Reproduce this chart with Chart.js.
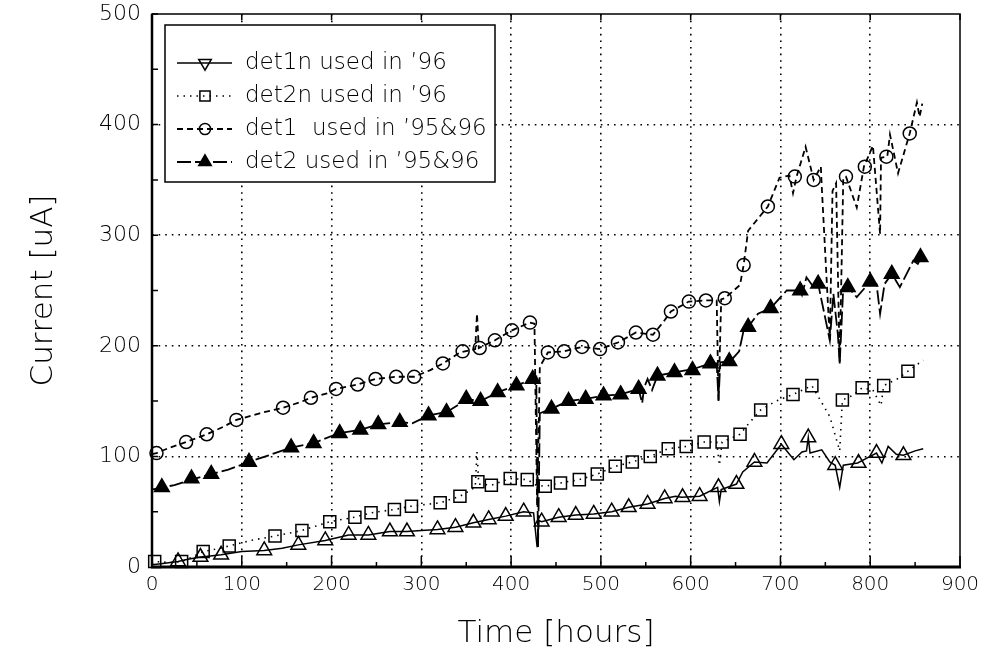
<!DOCTYPE html>
<html>
<head>
<meta charset="utf-8">
<script src="https://cdn.jsdelivr.net/npm/chart.js@4.4.1/dist/chart.umd.min.js"></script>
<style>
  html, body { margin: 0; padding: 0; background: #fff; }
  canvas { display: block; }
</style>
</head>
<body>
<canvas id="c" width="987" height="650"></canvas>
<script>
'use strict';

/* ── data ── */
// det1n used in '96 (open triangles, solid)
const det1nHours = [0,10,29,40,54,65,77,100,125,145,163,193,219,241,265,284,300,318,338,358,375,394,414,425,429,431,434,453,472,492,512,531,552,571,583,590,610,630,632,634,651,658,671,685,701,708,715,724,729,731,733,746,755,761,766,770,786,800,807,813,820,829,837,850,859];
const det1nCurrent = [2,3,5,7,9,10,11,14,15,17,20,24,29,29,32,32,33,34,36,40,43,46,50,49,18,42,41,45,47,48,50,54,57,62,64,63,64,72,59,70,75,86,95,94,111,104,97,104,105,117,103,106,95,92,72,92,94,100,103,94,109,102,101,105,107];
const det1nMarkHours = [29,54,77,125,163,193,219,241,265,284,318,338,358,375,394,414,434,453,472,492,512,531,552,571,591,610,631,651,671,701,731,761,787,807,837];
const det1nMarkCurrent = [5,9,11,15,20,24,29,29,32,32,34,36,40,43,46,50,41,45,47,48,50,54,57,62,63,64,72,75,95,111,117,92,94,103,101];

// det2n used in '96 (open squares, dotted)
const det2nHours = [0,3,20,33,45,57,70,86,110,137,167,198,226,244,270,289,321,343,360,362,364,378,399,418,428,438,455,476,496,516,535,555,575,595,615,629,632,635,655,665,678,695,714,735,745,755,766,769,780,791,803,812,815,830,842,859];
const det2nCurrent = [3,5,4,5,9,14,16,19,24,28,33,41,45,49,52,55,58,64,72,104,75,74,80,79,74,73,76,79,84,91,95,100,107,109,113,113,92,113,120,130,142,150,156,164,150,136,105,151,155,162,160,146,164,170,177,187];
const det2nMarkHours = [3,33,57,86,137,167,198,226,244,270,289,321,343,363,378,399,418,438,455,476,496,516,535,555,575,595,615,635,655,678,714,735,769,791,815,842];
const det2nMarkCurrent = [5,5,14,19,28,33,41,45,49,52,55,58,64,77,74,80,79,73,76,79,84,91,95,100,107,109,113,113,120,142,156,164,151,162,164,177];

// det1 used in '95&96 (open circles, dashed)
const det1Hours = [0,5,20,38,61,80,94,120,146,165,177,195,205,229,249,272,292,310,324,343,360,362,364,382,401,421,426,429,432,441,459,479,499,519,539,558,570,578,598,617,629,631,634,638,655,659,664,686,699,710,714,718,728,737,745,746,755,758,762,766,770,773,785,793,803,811,812,819,822,831,844,852,855,858];
const det1Current = [102,103,108,113,120,127,133,139,144,149,153,157,161,165,170,172,172,178,184,194,197,229,198,205,214,221,220,55,181,194,195,199,197,203,212,210,222,231,240,241,241,150,242,243,255,273,304,326,352,354,338,353,380,350,362,344,205,340,347,184,352,353,325,362,381,301,370,371,391,356,392,420,407,419];
const det1MarkHours = [5,38,61,94,146,177,205,229,249,272,292,324,346,365,382,401,421,441,459,479,499,519,539,558,578,598,617,638,659,686,716,737,773,794,818,844];
const det1MarkCurrent = [103,113,120,133,144,153,161,165,170,172,172,184,195,198,205,214,221,194,195,199,197,203,212,210,231,240,241,243,273,326,353,350,353,362,371,392];

// det2 used in '95&96 (filled triangles, long dash)
const det2Hours = [0,11,25,44,66,85,108,130,155,180,208,232,252,276,290,308,328,340,350,366,385,406,424,428,430,432,445,463,483,503,522,542,546,548,552,554,557,563,582,603,622,629,631,633,644,654,659,664,675,689,707,722,724,729,737,742,755,759,764,766,770,775,785,800,807,811,816,824,833,848,853,857];
const det2Current = [70,72,74,79,84,88,95,101,108,112,121,124,129,131,130,137,140,146,152,150,158,164,170,172,18,139,143,150,152,155,156,161,148,162,170,166,160,173,176,179,184,184,151,185,186,195,214,217,229,234,250,250,246,262,253,256,205,247,210,184,253,253,244,258,256,229,256,265,253,277,274,280];
const det2MarkHours = [11,44,66,108,155,180,209,232,252,276,308,328,350,366,385,406,424,445,464,483,503,522,542,563,582,602,622,643,664,689,722,742,775,800,824,856];
const det2MarkCurrent = [72,80,84,95,108,112,121,124,129,131,137,140,152,150,158,164,170,143,150,152,155,156,161,173,176,178,184,186,217,234,250,256,253,258,265,280];

const seriesNames = ["det1n used in \u201996", "det2n used in \u201996", "det1  used in \u201995&96", "det2 used in \u201995&96"];
const xTicks = [0,100,200,300,400,500,600,700,800,900];
const yTicks = [0,100,200,300,400,500];

/* ── styles ── */
const FONT = "'DejaVu Sans', sans-serif";
const WEIGHT = 200;
const STYLE = [
  { dash: [],       width: 1.5, point: 'triangle', radius: 8.5, fill: 'rgba(0,0,0,0)', legendRot: 180 },
  { dash: [1.5,5],  width: 1.6, point: 'rect',     radius: 8.5, fill: 'rgba(0,0,0,0)', legendRot: 0 },
  { dash: [6,4],    width: 1.8, point: 'circle',   radius: 6.5, fill: 'rgba(0,0,0,0)', legendRot: 0 },
  { dash: [14,4],   width: 1.8, point: 'triangle', radius: 8.5, fill: '#000',          legendRot: 0 }
];

const pts = (xs, ys) => xs.map((x, i) => ({ x, y: ys[i] }));
const lines = [
  pts(det1nHours, det1nCurrent), pts(det2nHours, det2nCurrent),
  pts(det1Hours, det1Current),   pts(det2Hours, det2Current)
];
const marks = [
  pts(det1nMarkHours, det1nMarkCurrent), pts(det2nMarkHours, det2nMarkCurrent),
  pts(det1MarkHours, det1MarkCurrent),   pts(det2MarkHours, det2MarkCurrent)
];

const datasets = [];
lines.forEach((d, i) => datasets.push({
  label: seriesNames[i], data: d, showLine: true, pointRadius: 0,
  borderColor: '#000', borderWidth: STYLE[i].width, borderDash: STYLE[i].dash,
  tension: 0, clip: false
}));
marks.forEach((d, i) => datasets.push({
  label: seriesNames[i] + ' markers', data: d, showLine: false,
  pointStyle: STYLE[i].point, pointRadius: STYLE[i].radius, pointHoverRadius: STYLE[i].radius,
  pointBorderColor: '#000', pointBackgroundColor: STYLE[i].fill, pointBorderWidth: 1.5,
  clip: false
}));

/* ── frame, inward ticks and boxed legend ── */
const frame = {
  id: 'frame',
  afterDatasetsDraw(chart) {
    const { ctx, chartArea: a, scales: { x, y } } = chart;
    ctx.save();
    ctx.setLineDash([]);
    ctx.strokeStyle = '#000';
    ctx.lineWidth = 1.5;
    ctx.strokeRect(a.left, a.top, a.right - a.left, a.bottom - a.top);
    ctx.lineWidth = 3;
    ctx.beginPath(); ctx.moveTo(a.left - 1, a.bottom); ctx.lineTo(a.right + 1, a.bottom); ctx.stroke();
    ctx.lineWidth = 2.5;
    ctx.beginPath(); ctx.moveTo(a.left, a.top); ctx.lineTo(a.left, a.bottom); ctx.stroke();
    ctx.lineWidth = 1.5;
    ctx.beginPath();
    x.ticks.forEach(t => {
      const px = x.getPixelForValue(t.value);
      const major = t.value % 100 === 0;
      ctx.moveTo(px, a.bottom); ctx.lineTo(px, a.bottom - (major ? 11 : 5));
      if (major) { ctx.moveTo(px, a.top); ctx.lineTo(px, a.top + 6); }
    });
    y.ticks.forEach(t => {
      const py = y.getPixelForValue(t.value);
      ctx.moveTo(a.left, py); ctx.lineTo(a.left + 6, py);
    });
    ctx.stroke();
    ctx.restore();
  },
  afterDraw(chart) {
    const { ctx, chartArea: a } = chart;
    const bx = a.left + 13, by = a.top + 11, bw = 330, bh = 157;
    ctx.save();
    ctx.fillStyle = '#fff';
    ctx.fillRect(bx, by, bw, bh);
    ctx.strokeStyle = '#000';
    ctx.lineWidth = 1.5;
    ctx.strokeRect(bx, by, bw, bh);
    seriesNames.forEach((name, i) => {
      const s = STYLE[i];
      const cy = by + 38 + i * 33;
      ctx.setLineDash(s.dash);
      ctx.lineWidth = s.width;
      ctx.beginPath(); ctx.moveTo(bx + 12, cy); ctx.lineTo(bx + 67, cy); ctx.stroke();
      ctx.setLineDash([]);
      ctx.fillStyle = s.fill;
      ctx.lineWidth = 1.5;
      Chart.helpers.drawPoint(ctx, { pointStyle: s.point, radius: s.radius * 0.85, rotation: s.legendRot, borderWidth: 1.5 }, bx + 40, cy);
      ctx.fillStyle = '#000';
      ctx.font = WEIGHT + ' 23px ' + FONT;
      ctx.textBaseline = 'middle';
      ctx.fillText(name, bx + 80, cy);
    });
    ctx.restore();
  }
};

const gridColor = (edges) => c => (c.tick.value % 100 === 0 && !edges.includes(c.tick.value)) ? '#000' : 'rgba(0,0,0,0)';

new Chart(document.getElementById('c'), {
  type: 'scatter',
  data: { datasets },
  options: {
    responsive: false, animation: false, devicePixelRatio: 1,
    layout: { padding: { left: 0, right: 27, top: 14, bottom: 0 } },
    plugins: { legend: { display: false }, tooltip: { enabled: false } },
    scales: {
      x: {
        type: 'linear', min: 0, max: 900,
        afterFit: s => { s.height = 83; },
        grid: { color: gridColor([0, 900]), lineWidth: 1.6, drawTicks: false },
        border: { display: false, dash: [1.6, 5] },
        ticks: {
          stepSize: 50, autoSkip: false, maxRotation: 0, padding: 6, color: '#000',
          font: { family: FONT, size: 20, weight: WEIGHT },
          callback: v => xTicks.includes(v) ? String(v) : ''
        },
        title: { display: true, text: 'Time [hours]', color: '#000',
          font: { family: FONT, size: 31, lineHeight: 1, weight: WEIGHT }, padding: { top: 0, bottom: 1 } }
      },
      y: {
        type: 'linear', min: 0, max: 500,
        afterFit: s => { s.width = 152; s.paddingTop = 0; },
        grid: { color: gridColor([0, 500]), lineWidth: 1.6, drawTicks: false },
        border: { display: false, dash: [1.6, 5] },
        ticks: {
          stepSize: 50, autoSkip: false, padding: 11, color: '#000',
          font: { family: FONT, size: 22, weight: WEIGHT },
          callback: v => yTicks.includes(v) ? String(v) : ''
        },
        title: { display: true, text: 'Current [uA]', color: '#000',
          font: { family: FONT, size: 31, lineHeight: 1.2, weight: WEIGHT }, padding: { top: 25, bottom: 0 } }
      }
    }
  },
  plugins: [frame]
});
</script>
</body>
</html>
